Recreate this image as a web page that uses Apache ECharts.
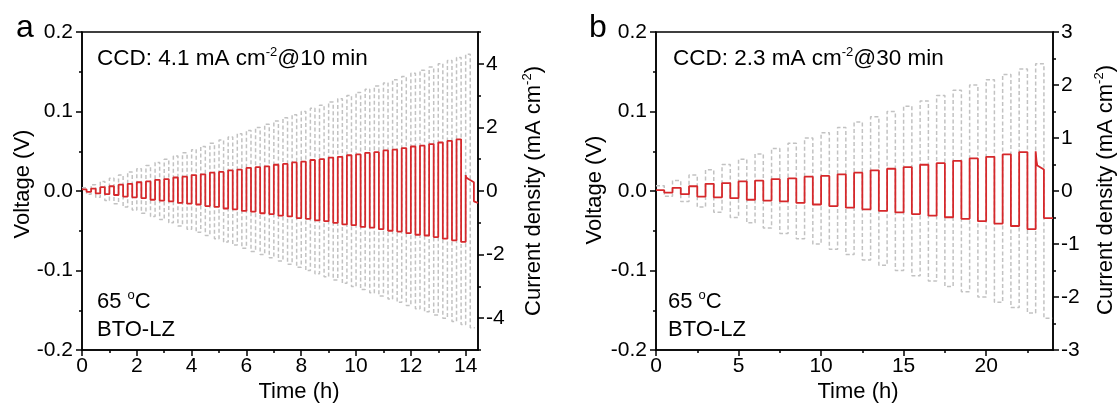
<!DOCTYPE html>
<html><head><meta charset="utf-8">
<script src="https://cdn.jsdelivr.net/npm/echarts@6/dist/echarts.min.js"></script>
<style>html,body{margin:0;padding:0;background:#fff}#c{width:1120px;height:408px}</style>
</head><body><div id="c"></div>
<script>
const FONT = '"Liberation Sans", Arial, Helvetica, sans-serif';

// ---------- Panel a : 10 min half cycles ----------
const halfA = 1 / 6; // h
const currentA = [0.1,0.2,0.3,0.4,0.5,0.6,0.7,0.8,0.9,1.0,1.1,1.2,1.3,1.4,1.5,1.6,1.7,1.8,1.9,2.0,
  2.1,2.2,2.3,2.4,2.5,2.6,2.7,2.8,2.9,3.0,3.1,3.2,3.3,3.4,3.5,3.6,3.7,3.8,3.9,4.0,4.1,4.2,4.3];
const vPosA = [0.002,0.003,0.005,0.006,0.008,0.009,0.011,0.012,0.014,0.015,0.017,0.018,0.020,0.021,0.023,
  0.024,0.026,0.027,0.029,0.030,0.031,0.033,0.034,0.036,0.037,0.039,0.040,0.042,0.043,0.045,0.046,0.048,
  0.049,0.051,0.052,0.054,0.056,0.057,0.059,0.061,0.063,0.065];
const vNegA = [-0.001,-0.003,-0.004,-0.005,-0.007,-0.008,-0.009,-0.011,-0.012,-0.013,-0.015,-0.016,-0.017,
  -0.019,-0.020,-0.022,-0.023,-0.025,-0.026,-0.028,-0.029,-0.031,-0.032,-0.034,-0.035,-0.037,-0.038,-0.040,
  -0.042,-0.043,-0.045,-0.046,-0.048,-0.050,-0.051,-0.053,-0.055,-0.056,-0.058,-0.060,-0.062,-0.064];
const tailTimeA = [14.0, 14.02, 14.1, 14.3, 14.3, 14.45];
const tailVoltA = [0.020, 0.017, 0.015, 0.011, -0.013, -0.015];
const xTicksA = [0,2,4,6,8,10,12,14];
const xMinorA = [1,3,5,7,9,11,13];
const yRightTicksA = [-4,-2,0,2,4];
const yRightMinorA = [-5,-3,-1,1,3,5];

// ---------- Panel b : 30 min half cycles ----------
const halfB = 0.5;
const currentB = [0.1,0.2,0.3,0.4,0.5,0.6,0.7,0.8,0.9,1.0,1.1,1.2,1.3,1.4,1.5,1.6,1.7,1.8,1.9,2.0,2.1,2.2,2.3,2.4];
const vPosB = [0.001,0.004,0.006,0.009,0.010,0.012,0.013,0.015,0.016,0.018,0.019,0.021,0.023,0.026,0.028,
  0.030,0.033,0.035,0.038,0.041,0.043,0.046,0.049];
const vNegB = [-0.002,-0.004,-0.007,-0.008,-0.009,-0.011,-0.012,-0.013,-0.015,-0.017,-0.019,-0.021,-0.023,
  -0.025,-0.027,-0.029,-0.031,-0.033,-0.035,-0.038,-0.041,-0.044,-0.048];
const tailTimeB = [23.0, 23.05, 23.1, 23.5, 23.5, 24.05];
const tailVoltB = [0.050, 0.038, 0.032, 0.027, -0.034, -0.034];
const xTicksB = [0,5,10,15,20];
const xMinorB = [2.5,7.5,12.5,17.5,22.5];
const yRightTicksB = [-3,-2,-1,0,1,2,3];
const yRightMinorB = [-2.5,-1.5,-0.5,0.5,1.5,2.5];

// shared voltage axis
const yLeftTicks = [-0.2,-0.1,0,0.1,0.2];
const yLeftMinor = [-0.15,-0.05,0.05,0.15];

function squareWave(half, pos, neg) {
  const pts = [];
  for (let i = 0; i < pos.length; i++) {
    const s = 2 * i * half;
    pts.push([s, pos[i]], [s + half, pos[i]], [s + half, neg[i]], [s + 2 * half, neg[i]]);
  }
  return pts;
}
function withTail(pts, tt, tv) { return pts.concat(tt.map((t, i) => [t, tv[i]])); }

const redA = withTail(squareWave(halfA, vPosA, vNegA), tailTimeA, tailVoltA);
const grayA = squareWave(halfA, currentA, currentA.map(v => -v));
const redB = withTail(squareWave(halfB, vPosB, vNegB), tailTimeB, tailVoltB);
const grayB = squareWave(halfB, currentB, currentB.map(v => -v));

const black = '#000';
const lineW = 1.5;
function tickAxis(major, minor, grid, pos, min, max, margin, fmt) {
  const main = {
    type: 'value', gridIndex: grid, position: pos, min: min, max: max, offset: 0,
    axisLine: { show: true, onZero: false, lineStyle: { color: black, width: lineW } },
    splitLine: { show: false },
    axisTick: { show: true, customValues: major, length: 6, lineStyle: { color: black, width: lineW } },
    axisLabel: { show: true, customValues: major, color: black, fontSize: 21, fontFamily: FONT, margin: margin,
      formatter: fmt }
  };
  const mnr = {
    type: 'value', gridIndex: grid, position: pos, min: min, max: max, offset: 0,
    axisLine: { show: false, onZero: false },
    axisTick: { show: true, customValues: minor, length: 3, lineStyle: { color: black, width: lineW } },
    axisLabel: { show: false }, splitLine: { show: false }
  };
  return [main, mnr];
}
const f1 = v => Number(v).toFixed(1);
const fi = v => String(Math.round(v));

const xAxes = [
  ...tickAxis(xTicksA, xMinorA, 0, 'bottom', 0, 14.45, 6, fi),
  ...tickAxis(xTicksB, xMinorB, 1, 'bottom', 0, 24.05, 6, fi)
];
const yAxes = [
  ...tickAxis(yLeftTicks, yLeftMinor, 0, 'left', -0.2, 0.2, 9, f1),
  ...tickAxis(yRightTicksA, yRightMinorA, 0, 'right', -5, 5, 8, fi),
  ...tickAxis(yLeftTicks, yLeftMinor, 1, 'left', -0.2, 0.2, 9, f1),
  ...tickAxis(yRightTicksB, yRightMinorB, 1, 'right', -3, 3, 8, fi)
];

const red = '#d6282b';
const gray = '#c2c2c2';
function redSeries(data, xi, yi) {
  return { type: 'line', xAxisIndex: xi, yAxisIndex: yi, data: data, showSymbol: false, symbol: 'none',
    lineStyle: { color: red, width: 1.8 }, z: 4, animation: false, silent: true };
}
function graySeries(data, xi, yi) {
  return { type: 'line', xAxisIndex: xi, yAxisIndex: yi, data: data, showSymbol: false, symbol: 'none',
    lineStyle: { color: gray, width: 1.5, type: [4, 2.5] }, z: 2, animation: false, silent: true };
}

const txt = { fill: black, fontSize: 22, fontFamily: FONT, lineHeight: 26, verticalAlign: 'middle', align: 'left',
  rich: { sup: { fontSize: 13, fontFamily: FONT, fill: black, verticalAlign: 'top', lineHeight: 13 } } };
function label(x, y, text, extra, rot) {
  const el = { type: 'text', x: x, y: y, style: Object.assign({}, txt, { text: text }, extra || {}), z: 10 };
  if (rot) el.rotation = rot;
  return el;
}
const C = { align: 'center' };
const R90 = Math.PI / 2;

const chart = echarts.init(document.getElementById('c'), null, { renderer: 'canvas' });
chart.setOption({
  backgroundColor: '#fff',
  animation: false,
  grid: [
    { left: 82, top: 32, width: 396, height: 318, show: true, borderColor: black, borderWidth: lineW, containLabel: false },
    { left: 656, top: 32, width: 397, height: 318, show: true, borderColor: black, borderWidth: lineW, containLabel: false }
  ],
  xAxis: xAxes,
  yAxis: yAxes,
  series: [
    graySeries(grayA, 0, 2), redSeries(redA, 0, 0),
    graySeries(grayB, 2, 6), redSeries(redB, 2, 4)
  ],
  graphic: [
    label(16, 28, 'a', { fontSize: 32, lineHeight: 34 }),
    label(589, 28, 'b', { fontSize: 32, lineHeight: 34 }),
    label(97, 59, 'CCD: 4.1 mA cm{sup|-2}@10 min', { fontSize: 22.5 }),
    label(673, 59, 'CCD: 2.3 mA cm{sup|-2}@30 min', { fontSize: 22.5 }),
    label(97, 302, '65 {sup|o}C'),
    label(97, 330, 'BTO-LZ'),
    label(668, 302, '65 {sup|o}C'),
    label(668, 330, 'BTO-LZ'),
    // axis titles
    label(299, 392, 'Time (h)', C),
    label(858, 392, 'Time (h)', C),
    label(23, 184, 'Voltage (V)', C, R90),
    label(595, 190, 'Voltage (V)', C, R90),
    label(534, 191, 'Current density (mA cm{sup|-2})', C, R90),
    label(1106, 190, 'Current density (mA cm{sup|-2})', C, R90)
  ]
});
</script></body></html>
